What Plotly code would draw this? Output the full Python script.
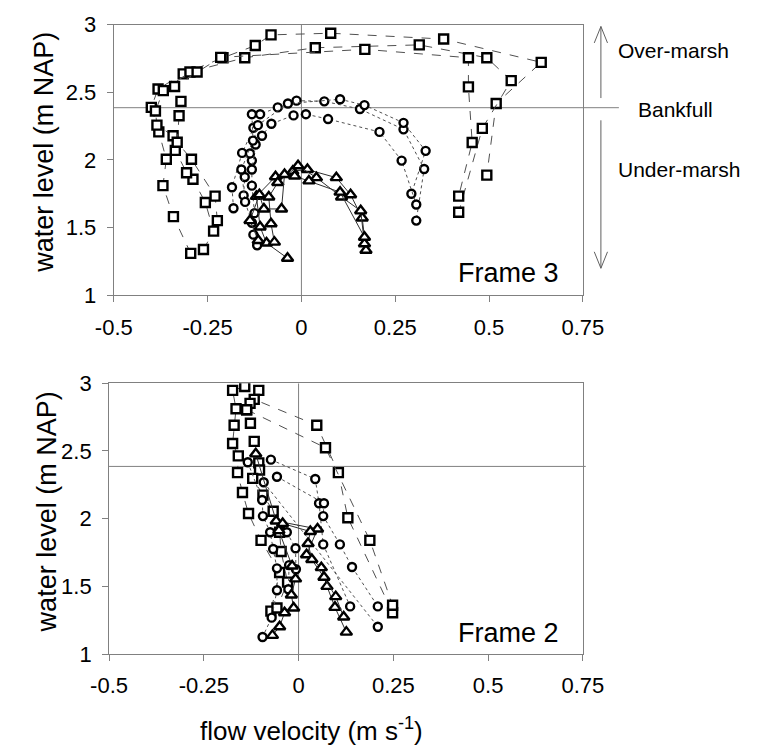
import plotly.graph_objects as go

# ---------------- Frame 3 (top panel) ----------------
# squares (dashed)
f3_sq1_v = [-0.295, -0.341, -0.369, -0.360, -0.380, -0.400, -0.382, -0.315, -0.209, -0.123, -0.081, 0.078, 0.379, 0.639, 0.519, 0.494]
f3_sq1_h = [1.310, 1.581, 1.810, 2.005, 2.207, 2.388, 2.524, 2.636, 2.755, 2.845, 2.924, 2.936, 2.893, 2.721, 2.417, 1.888]
f3_sq2_v = [-0.261, -0.234, -0.256, -0.289, -0.306, -0.336, -0.342, -0.385, -0.389, -0.368, -0.297, -0.151, 0.037, 0.314, 0.494, 0.559, 0.482, 0.419]
f3_sq2_h = [1.338, 1.474, 1.686, 1.857, 1.905, 2.071, 2.179, 2.257, 2.362, 2.512, 2.650, 2.755, 2.829, 2.850, 2.755, 2.586, 2.233, 1.614]
f3_sq3_v = [-0.224, -0.230, -0.293, -0.331, -0.326, -0.321, -0.338, -0.278, -0.215, 0.169, 0.445, 0.445, 0.455, 0.419]
f3_sq3_h = [1.552, 1.733, 2.005, 2.131, 2.326, 2.433, 2.543, 2.650, 2.758, 2.817, 2.755, 2.540, 2.129, 1.733]

# circles (dotted)
f3_ci1_v = [-0.181, -0.185, -0.158, -0.128, -0.110, -0.063, -0.013, 0.061, 0.156, 0.272, 0.327, 0.306]
f3_ci1_h = [1.643, 1.798, 2.052, 2.238, 2.338, 2.388, 2.438, 2.433, 2.376, 2.226, 1.933, 1.552]
f3_ci2_v = [-0.154, -0.151, -0.132, -0.137, -0.116, -0.036, 0.103, 0.168, 0.272, 0.331, 0.293]
f3_ci2_h = [1.738, 1.874, 1.995, 2.048, 2.257, 2.417, 2.448, 2.405, 2.274, 2.067, 1.750]
f3_ci3_v = [-0.125, -0.132, -0.132, -0.122, -0.105, -0.080, -0.021, 0.012, 0.071, 0.208, 0.267, 0.306]
f3_ci3_h = [1.607, 1.810, 1.929, 2.114, 2.179, 2.267, 2.329, 2.338, 2.302, 2.207, 1.995, 1.671]
f3_ci4_v = [-0.118, -0.128, -0.132, -0.150, -0.160, -0.129, -0.132]
f3_ci4_h = [1.369, 1.448, 1.536, 1.690, 1.929, 2.143, 2.338]

# triangles (solid)
f3_tr1_v = [-0.037, -0.093, -0.110, -0.120, -0.069, -0.023, 0.016, 0.093, 0.131, 0.162, 0.172]
f3_tr1_h = [1.274, 1.386, 1.505, 1.731, 1.876, 1.917, 1.929, 1.869, 1.743, 1.571, 1.333]
f3_tr2_v = [-0.072, -0.081, -0.087, -0.063, -0.009, 0.040, 0.107, 0.158, 0.168]
f3_tr2_h = [1.393, 1.529, 1.726, 1.833, 1.957, 1.869, 1.726, 1.624, 1.381]
f3_tr3_v = [-0.115, -0.137, -0.112, -0.100, -0.053, -0.045, -0.018, 0.020, 0.103, 0.168]
f3_tr3_h = [1.405, 1.552, 1.743, 1.638, 1.638, 1.893, 1.881, 1.845, 1.762, 1.429]

# ---------------- Frame 2 (bottom panel) ----------------
f2_sq1_v = [-0.142, -0.174, -0.165, -0.170, -0.174, -0.159, -0.161, -0.148, -0.132, -0.099, -0.050, -0.073]
f2_sq1_h = [2.976, 2.948, 2.812, 2.690, 2.555, 2.464, 2.340, 2.193, 2.038, 1.840, 1.602, 1.317]
f2_sq2_v = [-0.105, -0.117, 0.048, 0.105, 0.130, 0.248]
f2_sq2_h = [2.948, 2.881, 2.690, 2.340, 2.007, 1.305]
f2_sq3_v = [-0.128, -0.137, -0.127, -0.117, -0.105, -0.103, -0.121, -0.094, -0.067, -0.050, -0.046, -0.029, -0.057]
f2_sq3_h = [2.852, 2.805, 2.705, 2.571, 2.412, 2.360, 2.298, 2.174, 2.055, 1.900, 1.757, 1.531, 1.340]
f2_sq4_v = [-0.137, 0.071, 0.188, 0.248]
f2_sq4_h = [2.805, 2.524, 1.840, 1.360]

f2_ci1_v = [-0.134, -0.096, -0.094, -0.075, -0.067, -0.057, -0.057, -0.071, -0.095]
f2_ci1_h = [2.417, 2.138, 2.019, 1.900, 1.776, 1.633, 1.471, 1.269, 1.126]
f2_ci2_v = [-0.073, 0.044, 0.054, 0.065, 0.136]
f2_ci2_h = [2.436, 2.293, 2.114, 1.810, 1.352]
f2_ci3_v = [-0.057, 0.067, 0.065, 0.109, 0.141, 0.209]
f2_ci3_h = [2.310, 2.114, 2.019, 1.810, 1.643, 1.352]
f2_ci4_v = [-0.092, 0.209]
f2_ci4_h = [2.269, 1.202]
f2_ci5_v = [-0.031, -0.008, -0.007, -0.025, -0.027]
f2_ci5_h = [1.900, 1.781, 1.626, 1.657, 1.479]

f2_tr1_v = [-0.113, -0.059, 0.050, 0.021, 0.060, 0.075, 0.096, 0.126]
f2_tr1_h = [2.479, 1.983, 1.924, 1.733, 1.638, 1.500, 1.345, 1.162]
f2_tr2_v = [-0.042, 0.031, 0.025, 0.035, 0.067, 0.098, 0.119]
f2_tr2_h = [1.964, 1.905, 1.817, 1.698, 1.567, 1.424, 1.274]
f2_tr3_v = [-0.052, -0.017, -0.008, -0.019, -0.013, -0.037, -0.050, -0.069]
f2_tr3_h = [1.912, 1.650, 1.555, 1.436, 1.340, 1.305, 1.202, 1.138]

bankfull_level = 2.386
x_ticks = [-0.5, -0.25, 0, 0.25, 0.5, 0.75]
x_tick_text = ["-0.5", "-0.25", "0", "0.25", "0.5", "0.75"]
y_ticks = [1, 1.5, 2, 2.5, 3]
y_tick_text = ["1", "1.5", "2", "2.5", "3"]

FONT = "Liberation Sans, Arial, sans-serif"
W, H = 765, 756

STYLES = {
    "sq": dict(symbol="square", size=9, dash="dash", lc="#505050"),
    "ci": dict(symbol="circle", size=8, dash="dot", lc="#505050"),
    "tr": dict(symbol="triangle-up", size=10, dash="solid", lc="#303030"),
}

fig = go.Figure()

def add(v, h, kind, xa, ya):
    s = STYLES[kind]
    fig.add_trace(go.Scatter(
        x=v, y=h, mode="lines+markers", xaxis=xa, yaxis=ya, showlegend=False,
        line=dict(color=s["lc"], width=1, dash=s["dash"]),
        marker=dict(symbol=s["symbol"], size=s["size"], color="white",
                    line=dict(color="black", width=2.4)),
    ))

top = [(f3_sq1_v, f3_sq1_h, "sq"), (f3_sq2_v, f3_sq2_h, "sq"), (f3_sq3_v, f3_sq3_h, "sq"),
       (f3_ci1_v, f3_ci1_h, "ci"), (f3_ci2_v, f3_ci2_h, "ci"), (f3_ci3_v, f3_ci3_h, "ci"), (f3_ci4_v, f3_ci4_h, "ci"),
       (f3_tr1_v, f3_tr1_h, "tr"), (f3_tr2_v, f3_tr2_h, "tr"), (f3_tr3_v, f3_tr3_h, "tr")]
bottom = [(f2_sq1_v, f2_sq1_h, "sq"), (f2_sq2_v, f2_sq2_h, "sq"), (f2_sq3_v, f2_sq3_h, "sq"), (f2_sq4_v, f2_sq4_h, "sq"),
          (f2_ci1_v, f2_ci1_h, "ci"), (f2_ci2_v, f2_ci2_h, "ci"), (f2_ci3_v, f2_ci3_h, "ci"), (f2_ci4_v, f2_ci4_h, "ci"), (f2_ci5_v, f2_ci5_h, "ci"),
          (f2_tr1_v, f2_tr1_h, "tr"), (f2_tr2_v, f2_tr2_h, "tr"), (f2_tr3_v, f2_tr3_h, "tr")]
for v, h, k in top:
    add(v, h, k, "x", "y")
for v, h, k in bottom:
    add(v, h, k, "x2", "y2")

def px(x):
    return x / W

def py(y):
    return 1 - y / H

axis_common = dict(showgrid=False, zeroline=False, showline=True, mirror=True,
                   linecolor="#808080", linewidth=1, ticks="outside", ticklen=6,
                   tickcolor="#808080", tickfont=dict(family=FONT, size=22, color="black"))

top_x_dom = [px(100), px(595)]
bot_x_dom = [px(95), px(595)]
top_y_dom = [py(293), py(13)]
bot_y_dom = [py(664), py(384)]

fig.update_layout(
    width=W, height=H, margin=dict(l=0, r=0, t=0, b=0),
    paper_bgcolor="white", plot_bgcolor="white",
    xaxis=dict(domain=top_x_dom, range=[-0.5, 0.75], tickvals=x_ticks, ticktext=x_tick_text,
               anchor="y", ticklabelstandoff=6, **axis_common),
    yaxis=dict(domain=top_y_dom, range=[1, 3], tickvals=y_ticks, ticktext=y_tick_text,
               anchor="x", ticklabelstandoff=6, **axis_common),
    xaxis2=dict(domain=bot_x_dom, range=[-0.5, 0.75], tickvals=x_ticks, ticktext=x_tick_text,
                anchor="y2", ticklabelstandoff=6, **axis_common),
    yaxis2=dict(domain=bot_y_dom, range=[1, 3], tickvals=y_ticks, ticktext=y_tick_text,
                anchor="x2", ticklabelstandoff=6, **axis_common),
)

shapes = []
# zero lines
shapes.append(dict(type="line", xref="x", yref="y", x0=0, x1=0, y0=1, y1=3,
                   line=dict(color="#808080", width=1), layer="below"))
shapes.append(dict(type="line", xref="x2", yref="y2", x0=0, x1=0, y0=1, y1=3,
                   line=dict(color="#808080", width=1), layer="below"))
# bankfull lines
shapes.append(dict(type="line", xref="paper", yref="y", x0=top_x_dom[0], x1=px(633),
                   y0=bankfull_level, y1=bankfull_level, line=dict(color="#808080", width=1), layer="below"))
shapes.append(dict(type="line", xref="paper", yref="y2", x0=bot_x_dom[0], x1=px(598),
                   y0=bankfull_level, y1=bankfull_level, line=dict(color="#808080", width=1), layer="below"))
# arrows
ax_x = 614
arrow_line = dict(color="#606060", width=1)
shapes.append(dict(type="line", xref="paper", yref="paper", x0=px(ax_x), x1=px(ax_x),
                   y0=py(15), y1=py(89), line=arrow_line))
shapes.append(dict(type="path", xref="paper", yref="paper",
                   path=f"M {px(ax_x-7)},{py(32)} L {px(ax_x)},{py(15)} L {px(ax_x+7)},{py(32)}",
                   line=arrow_line))
shapes.append(dict(type="line", xref="paper", yref="paper", x0=px(ax_x), x1=px(ax_x),
                   y0=py(112), y1=py(265), line=arrow_line))
shapes.append(dict(type="path", xref="paper", yref="paper",
                   path=f"M {px(ax_x-7)},{py(248)} L {px(ax_x)},{py(265)} L {px(ax_x+7)},{py(248)}",
                   line=arrow_line))
fig.update_layout(shapes=shapes)

ann = []
def text(t, x, y, size, xanchor="left", angle=0):
    ann.append(dict(text=t, x=px(x), y=py(y), xref="paper", yref="paper", showarrow=False,
                    xanchor=xanchor, yanchor="middle", textangle=angle,
                    font=dict(family=FONT, size=size, color="black")))

text("Over-marsh", 630, 40, 21)
text("Bankfull", 651, 101, 21)
text("Under-marsh", 630, 163, 21)
text("Frame 3", 572, 270, 27, xanchor="right")
text("Frame 2", 572, 642, 27, xanchor="right")
text("water level (m NAP)", 27, 145, 27, xanchor="center", angle=-90)
text("water level (m NAP)", 29, 517, 27, xanchor="center", angle=-90)
text("flow velocity (m s<sup>-1</sup>)", 309, 742, 26, xanchor="center")
fig.update_layout(annotations=ann)

fig.write_html("out.html")
